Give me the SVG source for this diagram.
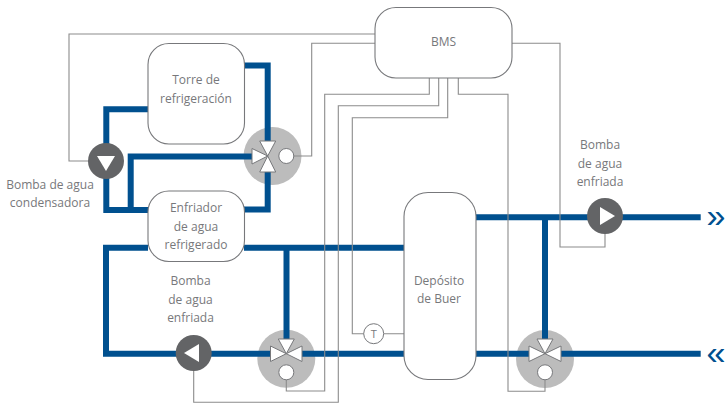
<svg xmlns="http://www.w3.org/2000/svg" width="726" height="403" viewBox="0 0 726 403">
<style>
.pipe{fill:none;stroke:#00508f;stroke-width:6;stroke-linejoin:miter}
.ctl{fill:none;stroke:#8c8c8c;stroke-width:1.1}
.box{fill:#fff;stroke:#77787b;stroke-width:1.1}
.pump{fill:#636466}
.tri{fill:#fff}
.vt{fill:#fff;stroke:#77787b;stroke-width:1}
.halo{fill:#bcbcbc}
text{font-family:"Open Sans","Noto Sans","Liberation Sans",sans-serif;font-size:12px;fill:#77787b;text-anchor:middle}
.chev{font-family:"Liberation Sans",sans-serif;font-size:34px;fill:#00508f}
</style>
<rect width="726" height="403" fill="#fff"/>
<g id="halos">
<circle class="halo" cx="272.5" cy="156" r="29"/>
<circle class="halo" cx="286.3" cy="358.7" r="29"/>
<circle class="halo" cx="545" cy="359" r="29"/>
</g>
<g id="connectors">
<path class="pipe" d="M244 65.5H267.7V145M148 109.3H106.3V210H148M130.7 210V156.5H256M244 209.5H267.7V168"/>
<path class="pipe" d="M148 247.7H106V353.7H275M244 247.7H404M286.5 247.7V343M298 353.7H404"/>
<path class="pipe" d="M476 217.3H700.7M545 217.3V343M476 353.7H533M557 353.7H700.7"/>
<path class="ctl" d="M375 34H69V161H90M375 43.3H311.7V156H293"/>
<path class="ctl" d="M429.3 78V94.3H324.7V391H286.3V380"/>
<path class="ctl" d="M438.7 78V105.7H338.3V402.3H193.7V370"/>
<path class="ctl" d="M447.7 78V117.7H352.3V333.7H364M384 333.7H404"/>
<path class="ctl" d="M458.3 78V94.3H508V391.3H545V380"/>
<path class="ctl" d="M511.7 43.3H560V247H605V232"/>
</g>
<g id="bms"><rect class="box" x="375" y="7.5" width="137" height="70.5" rx="21"/><text x="443.5" y="46">BMS</text></g>
<g id="torre"><rect class="box" x="148" y="43.5" width="96.5" height="100.5" rx="21"/><text x="196" y="84">Torre de</text><text x="196" y="103">refrigeración</text></g>
<g id="enfriador"><rect class="box" x="148" y="191" width="96.5" height="70.5" rx="21"/><text x="196" y="212">Enfriador</text><text x="196" y="231">de agua</text><text x="196" y="249">refrigerado</text></g>
<g id="deposito"><rect class="box" x="404" y="192.5" width="72" height="187" rx="24"/><text x="439" y="285">Depósito</text><text x="439" y="303">de Buer</text></g>
<g id="bomba-condensadora"><circle class="pump" cx="106" cy="161" r="18"/><path class="tri" d="M97 156H115L106 171Z"/><text x="50" y="189">Bomba de agua</text><text x="50" y="207">condensadora</text></g>
<g id="bomba-enfriada-1"><circle class="pump" cx="193.7" cy="353" r="18"/><path class="tri" d="M184 353L199 344V362Z"/><text x="190.5" y="285">Bomba</text><text x="190.5" y="304">de agua</text><text x="190.5" y="322">enfriada</text></g>
<g id="bomba-enfriada-2"><circle class="pump" cx="605" cy="216" r="18"/><path class="tri" d="M600 207L615 216L600 225Z"/><text x="600" y="149">Bomba</text><text x="600" y="168">de agua</text><text x="600" y="186">enfriada</text></g>
<g id="valvula-1"><path class="vt" d="M267.7 156L259.7 141H275.7ZM267.7 156L252 148.5V164ZM267.7 156L259.7 172H275.7Z"/><circle class="vt" cx="286.3" cy="156" r="7.5"/></g>
<g id="valvula-2"><path class="vt" d="M286.3 353.7L278.3 339H294.3ZM286.3 353.7L270.5 346V361.5ZM286.3 353.7L302 346V361.5Z"/><circle class="vt" cx="286.3" cy="372.3" r="7.5"/></g>
<g id="valvula-3"><path class="vt" d="M545 353.7L537 339H553ZM545 353.7L529 346V361.5ZM545 353.7L561 346V361.5Z"/><circle class="vt" cx="545" cy="372.3" r="7.5"/></g>
<g id="sensor-t"><circle class="vt" cx="373.7" cy="333.7" r="10"/><text x="373.7" y="338" style="font-size:11px">T</text></g>
<g id="flechas"><text class="chev" x="716" y="227">»</text><text class="chev" x="716" y="364">«</text></g>
</svg>
